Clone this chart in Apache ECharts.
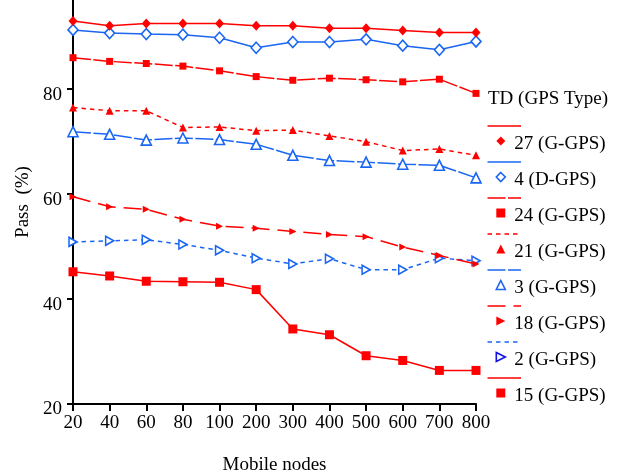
<!DOCTYPE html>
<html><head><meta charset="utf-8">
<script src="https://cdn.jsdelivr.net/npm/echarts@6/dist/echarts.min.js"></script>
<style>html,body{margin:0;padding:0;background:#fff}#c{width:623px;height:476px}</style>
</head><body><div id="c"></div>
<script>
// ---- data ----
const categories = ['20','40','60','80','100','200','300','400','500','600','700','800'];
const seriesNames = ['27 (G-GPS)','4 (D-GPS)','24 (G-GPS)','21 (G-GPS)','3 (G-GPS)','18 (G-GPS)','2 (G-GPS)','15 (G-GPS)'];
const gps27 = [93.0, 92.1, 92.5, 92.5, 92.5, 92.1, 92.1, 91.6, 91.6, 91.2, 90.8, 90.8];
const dgps4 = [91.3, 90.7, 90.5, 90.4, 89.8, 87.9, 89.0, 89.0, 89.5, 88.3, 87.5, 89.1];
const gps24 = [86.0, 85.3, 84.9, 84.4, 83.5, 82.4, 81.7, 82.1, 81.8, 81.4, 81.9, 79.2];
const gps21 = [76.5, 75.9, 75.9, 72.7, 72.8, 72.1, 72.2, 71.1, 70.0, 68.3, 68.6, 67.4];
const gps3  = [71.9, 71.4, 70.3, 70.7, 70.4, 69.5, 67.4, 66.4, 66.1, 65.7, 65.5, 63.1];
const gps18 = [59.5, 57.6, 57.1, 55.2, 53.9, 53.5, 52.9, 52.3, 51.9, 49.9, 48.3, 46.7];
const gps2  = [50.9, 51.1, 51.3, 50.4, 49.3, 47.8, 46.7, 47.7, 45.6, 45.6, 47.8, 47.3];
const gps15 = [45.2, 44.4, 43.4, 43.3, 43.2, 41.8, 34.3, 33.2, 29.2, 28.3, 26.4, 26.4];
const yTicks = [20, 40, 60, 80];
const legendTitle = 'TD (GPS Type)';
const xTitle = 'Mobile nodes';
const yTitle = 'Pass  (%)';

// ---- styles ----
const FONT = "'Liberation Serif','Times New Roman',serif";
const RED = '#ff0000', BLUE = '#1a66f2', DBLUE = '#1010e8';
const RTRI = 'path://M0,0L10,5L0,10Z';
const seriesData = [gps27, dgps4, gps24, gps21, gps3, gps18, gps2, gps15];
const looks = [
  {color: RED,  dash: 'solid',   symbol: 'diamond',  size: [9, 10], open: false},
  {color: BLUE, dash: 'solid',   symbol: 'diamond',  size: [10, 11], open: true},
  {color: RED,  dash: [18, 2.5], symbol: 'rect',     size: 7,  open: false},
  {color: RED,  dash: [4.5, 4],  symbol: 'triangle', size: 8,  open: false},
  {color: BLUE, dash: [18, 2.5], symbol: 'triangle', size: 10, open: true},
  {color: RED,  dash: [18, 8],   symbol: RTRI,       size: [7, 7], open: false},
  {color: BLUE, dash: [4.5, 4],  symbol: RTRI,       size: [8, 9], open: true},
  {color: RED,  dash: 'solid',   symbol: 'rect',     size: 9,  open: false}
];

const series = seriesData.map((d, i) => {
  const L = looks[i];
  return {
    name: seriesNames[i],
    type: 'line',
    data: d,
    symbol: L.symbol,
    symbolSize: L.size,
    showSymbol: true,
    lineStyle: {color: L.color, width: 1.5, type: L.dash},
    itemStyle: L.open ? {color: '#ffffff', borderColor: L.color, borderWidth: 1.6}
                      : {color: L.color, borderWidth: 0},
    emphasis: {disabled: true},
    z: 10 - i
  };
});

const legendData = seriesNames.map((n, i) => {
  const L = looks[i];
  const col = (i === 6) ? DBLUE : L.color;
  return {
    name: n,
    icon: L.symbol,
    itemStyle: L.open ? {color: '#ffffff', borderColor: col, borderWidth: 1.6}
                      : {color: col, borderWidth: 0}
  };
});

const graphics = seriesNames.map((n, i) => {
  const L = looks[i];
  const y = 126 + 36 * i;
  return {
    type: 'line', silent: true,
    shape: {x1: 487.5, y1: y, x2: 521, y2: y},
    style: {stroke: L.color, lineWidth: 1.6, lineDash: L.dash === 'solid' ? null : L.dash}
  };
});

const chart = echarts.init(document.getElementById('c'), null, {renderer: 'canvas'});
chart.setOption({
  animation: false,
  backgroundColor: '#ffffff',
  title: {
    text: legendTitle, left: 488, top: 88, padding: 0,
    textStyle: {fontSize: 19, fontWeight: 'normal', fontFamily: FONT, color: '#000', lineHeight: 22}
  },
  legend: {
    orient: 'vertical', left: 495.5, top: 128, padding: 0,
    itemWidth: 9, itemHeight: 9, itemGap: 10,
    selectedMode: false,
    data: legendData,
    formatter: '{t|{name}}',
    textStyle: {
      fontSize: 19, fontFamily: FONT, color: '#000',
      rich: {t: {fontSize: 19, fontFamily: FONT, color: '#000', lineHeight: 20, padding: [7, 0, 0, 4]}}
    }
  },
  graphic: graphics,
  grid: {left: 73, right: 147, top: 0, bottom: 72, containLabel: false, outerBoundsMode: 'none'},
  xAxis: {
    type: 'category', data: categories, boundaryGap: false,
    name: xTitle, nameLocation: 'middle', nameGap: 52,
    nameTextStyle: {fontSize: 19, fontFamily: FONT, color: '#000'},
    axisLine: {lineStyle: {color: '#000', width: 2}},
    axisTick: {show: true, length: 7, lineStyle: {color: '#000', width: 2}, alignWithLabel: true, interval: 0},
    axisLabel: {fontSize: 19, fontFamily: FONT, color: '#000', margin: 10, interval: 0},
    splitLine: {show: false}
  },
  yAxis: {
    type: 'value', min: 20, max: 97, interval: 20,
    name: yTitle, nameLocation: 'middle', nameGap: 33,
    nameTextStyle: {fontSize: 19, fontFamily: FONT, color: '#000'},
    axisLine: {show: true, lineStyle: {color: '#000', width: 2}},
    axisTick: {show: true, length: 6, lineStyle: {color: '#000', width: 2}, customValues: yTicks},
    axisLabel: {fontSize: 19, fontFamily: FONT, color: '#000', margin: 11, customValues: yTicks,
                verticalAlign: 'top', lineHeight: 11},
    splitLine: {show: false}
  },
  series: series
});
</script>
</body></html>
